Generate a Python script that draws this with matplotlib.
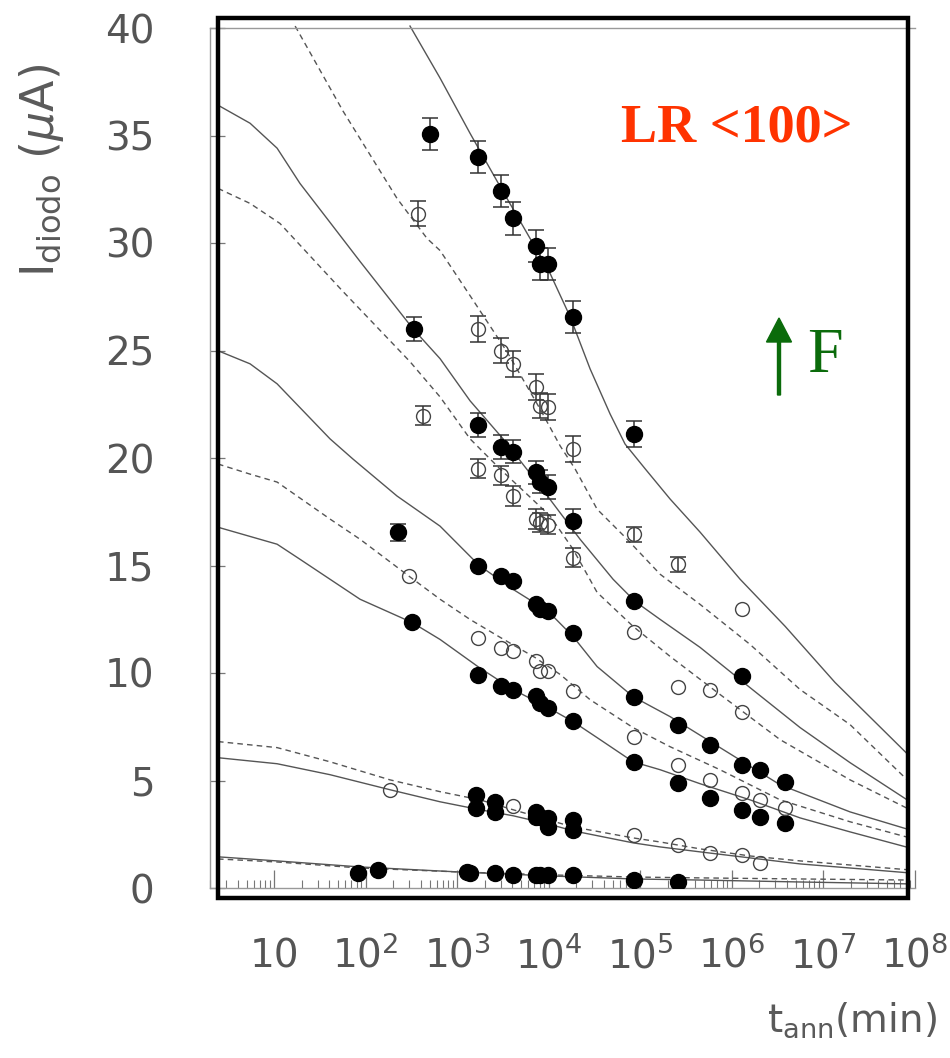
import numpy as np
import matplotlib
matplotlib.use("Agg")
import matplotlib.pyplot as plt
from matplotlib.patches import Rectangle, FancyArrow
from matplotlib.ticker import FixedLocator, LogLocator, NullFormatter

# ---- measured points (t in min, I in uA) ----
t_S1 = [500, 1700, 3000, 4100, 7300, 8100, 9900, 18500, 86000]
I_S1 = [35.06, 34.0, 32.43, 31.14, 29.85, 29.04, 29.04, 26.56, 21.12]
e_S1 = [0.75, 0.75, 0.75, 0.75, 0.75, 0.75, 0.75, 0.75, 0.6]

t_D1 = [375, 1700, 3000, 4100, 7300, 8100, 9900, 18500, 86000, 260000, 1.3e6]
I_D1 = [31.37, 26.0, 25.0, 24.38, 23.3, 22.44, 22.36, 20.42, 16.46, 15.06, 12.96]
e_D1 = [0.6, 0.6, 0.6, 0.6, 0.6, 0.6, 0.6, 0.6, 0.35, 0.35, 0.0]

t_S2 = [340, 1700, 3000, 4100, 7300, 8100, 9900, 18500, 86000, 1.3e6]
I_S2 = [26.0, 21.54, 20.5, 20.3, 19.33, 18.9, 18.65, 17.06, 13.33, 9.85]
e_S2 = [0.55, 0.55, 0.55, 0.55, 0.55, 0.55, 0.55, 0.55, 0.0, 0.0]

t_D2 = [425, 1700, 3000, 4100, 7300, 8100, 9900, 18500, 86000, 260000, 580000, 1.3e6]
I_D2 = [21.97, 19.5, 19.2, 18.24, 17.16, 17.0, 16.9, 15.37, 11.93, 9.37, 9.23, 8.2]
e_D2 = [0.45, 0.45, 0.45, 0.45, 0.45, 0.45, 0.45, 0.45, 0.0, 0.0, 0.0, 0.0]

t_S3 = [225, 1700, 3000, 4100, 7300, 8100, 9900, 18500, 86000, 260000, 580000, 1.3e6, 2.05e6, 3.85e6]
I_S3 = [16.54, 15.0, 14.5, 14.28, 13.2, 12.96, 12.88, 11.84, 8.9, 7.6, 6.67, 5.73, 5.5, 4.94]
e_S3 = [0.4] + [0.0] * 13

t_D3 = [300, 1700, 3000, 4100, 7300, 8100, 9900, 18500, 86000, 260000, 580000, 1.3e6, 2.05e6, 3.85e6]
I_D3 = [14.5, 11.64, 11.17, 11.02, 10.55, 10.08, 10.08, 9.15, 7.04, 5.73, 5.03, 4.43, 4.1, 3.73]

t_S4 = [320, 1700, 3000, 4100, 7300, 8100, 9900, 18500, 86000, 260000, 580000, 1.3e6, 2.05e6, 3.85e6]
I_S4 = [12.37, 9.93, 9.38, 9.23, 8.92, 8.6, 8.37, 7.75, 5.87, 4.9, 4.2, 3.64, 3.31, 3.03]

t_D4 = [185, 4100, 86000, 260000, 580000, 1.3e6, 2.05e6]
I_D4 = [4.57, 3.82, 2.47, 2.0, 1.63, 1.54, 1.17]

t_S5 = [1600, 1600, 2600, 2600, 7300, 7300, 8100, 9900, 9900, 18500, 18500]
I_S5 = [4.34, 3.72, 4.02, 3.55, 3.55, 3.3, 3.32, 3.24, 2.85, 3.17, 2.7]

t_S6 = [83, 137, 1300, 1400, 2600, 4100, 7300, 8100, 9900, 18500, 86000, 260000]
I_S6 = [0.71, 0.84, 0.76, 0.68, 0.7, 0.6, 0.6, 0.6, 0.6, 0.6, 0.37, 0.28]

# ---- model curves ----
tc_S1 = [306, 652, 1387, 2951, 6281, 1.04e4, 1.72e4, 2.84e4, 4.70e4, 6.85e4, 1.14e5, 2.13e5,
         4.53e5, 1.24e6, 3.85e6, 1.35e7, 8.93e7]
Ic_S1 = [40.09, 37.67, 35.10, 32.63, 30.21, 28.58, 26.57, 24.15, 22.05, 20.65, 19.49, 18.09,
         16.55, 14.36, 12.17, 9.56, 6.11]

tc_D1 = [17.0, 56.8, 221, 470, 652, 1387, 3516, 8072, 1.34e4, 1.95e4, 3.39e4, 6.85e4, 1.66e5,
         4.53e5, 1.59e6, 5.61e6, 1.97e7, 8.93e7]
Ic_D1 = [40.09, 36.13, 32.07, 30.21, 29.65, 27.55, 24.94, 22.28, 20.56, 19.49, 17.62, 16.32,
         14.59, 13.19, 11.33, 9.23, 7.60, 4.90]

tc_S2 = [2.44, 5.47, 10.8, 19.2, 37.9, 87.1, 330, 652, 1387, 3184, 8072, 2.21e4, 5.07e4, 8.81e4,
         1.66e5, 4.53e5, 1.59e6, 5.61e6, 1.97e7, 8.93e7]
Ic_S2 = [36.41, 35.57, 34.41, 32.77, 31.14, 29.14, 26.01, 24.62, 22.66, 20.89, 18.69, 16.22,
         14.36, 13.33, 12.49, 11.19, 9.32, 7.46, 5.83, 4.01]

tc_D2 = [2.44, 5.47, 11.6, 56.8, 306, 652, 1387, 2951, 6281, 1.04e4, 1.85e4, 3.39e4, 8.38e4,
         2.13e5, 7.48e5, 3.39e6, 1.97e7, 8.93e7]
Ic_D2 = [32.54, 31.84, 30.91, 27.74, 24.48, 22.84, 20.89, 19.49, 18.18, 17.30, 15.76, 13.75,
         12.17, 10.77, 9.00, 6.90, 5.03, 3.64]

tc_S3 = [2.44, 5.47, 10.8, 40.9, 72.9, 221, 652, 1738, 4093, 9886, 1.85e4, 3.39e4, 8.38e4,
         2.13e5, 7.48e5, 3.39e6, 1.97e7, 8.93e7]
Ic_S3 = [24.99, 24.38, 23.45, 20.89, 19.95, 18.23, 16.83, 15.01, 13.89, 12.87, 11.70, 10.30,
         8.90, 7.97, 6.53, 4.80, 3.54, 2.70]

tc_D3 = [2.44, 5.47, 10.8, 40.9, 87.1, 299, 652, 1387, 2951, 7112, 1.34e4, 2.84e4, 8.38e4,
         2.13e5, 7.48e5, 3.39e6, 1.97e7, 8.93e7]
Ic_D3 = [19.72, 19.25, 18.88, 17.16, 16.22, 14.50, 13.43, 12.49, 11.66, 10.72, 9.93, 8.76,
         7.46, 6.57, 5.50, 4.10, 3.08, 2.33]

tc_S4 = [2.44, 10.8, 19.2, 40.9, 87.1, 322, 652, 1738, 4093, 9886, 1.85e4, 3.66e4, 8.38e4,
         1.66e5, 4.53e5, 1.59e6, 5.61e6, 1.97e7, 8.93e7]
Ic_S4 = [16.78, 15.99, 15.29, 14.36, 13.43, 12.35, 11.56, 10.26, 9.23, 8.39, 7.74, 6.90, 5.87,
         5.50, 4.85, 4.10, 3.26, 2.61, 1.86]

tc_low = [2.44, 10.8, 40.9, 185, 652, 1782, 4093, 9886, 1.85e4, 8.38e4, 1.66e5, 4.53e5, 1.59e6,
          5.61e6, 1.97e7, 8.93e7]
Ic_D4 = [6.81, 6.53, 5.87, 5.03, 4.48, 4.10, 3.64, 3.17, 2.84, 2.33, 2.14, 1.82, 1.49, 1.26,
         1.07, 0.84]
Ic_S5 = [6.06, 5.78, 5.27, 4.57, 4.01, 3.64, 3.36, 2.98, 2.66, 2.10, 1.91, 1.68, 1.40, 1.12,
         0.93, 0.70]

tc_bot = [2.44, 10.8, 87.1, 1000, 1.04e4, 8.6e4, 4.53e5, 5.61e6, 8.93e7]
Ic_D5 = [1.35, 1.21, 0.93, 0.75, 0.61, 0.51, 0.47, 0.42, 0.37]
Ic_S6 = [1.45, 1.26, 0.98, 0.75, 0.56, 0.42, 0.37, 0.28, 0.19]

xticks = [10, 1e2, 1e3, 1e4, 1e5, 1e6, 1e7, 1e8]
xticklabels = ["10", "$10^{2}$", "$10^{3}$", "$10^{4}$", "$10^{5}$", "$10^{6}$", "$10^{7}$", "$10^{8}$"]
yticks = [0, 5, 10, 15, 20, 25, 30, 35, 40]

W, H = 950, 1058
fig = plt.figure(figsize=(W / 100, H / 100), dpi=100)
ax = fig.add_axes([210 / W, 1 - 888 / H, (914.6 - 210) / W, (888 - 28) / H])

line_col = "#555555"
dash = (4, 3)
curves = []
for tc, Ic in [(tc_S1, Ic_S1), (tc_S2, Ic_S2), (tc_S3, Ic_S3), (tc_S4, Ic_S4),
               (tc_low, Ic_S5), (tc_bot, Ic_S6)]:
    ln, = ax.plot(tc, Ic, color=line_col, lw=1.0, zorder=2)
    curves.append(ln)
for tc, Ic in [(tc_D1, Ic_D1), (tc_D2, Ic_D2), (tc_D3, Ic_D3), (tc_low, Ic_D4), (tc_bot, Ic_D5)]:
    ln, = ax.plot(tc, Ic, color=line_col, lw=1.0, ls=(0, dash), zorder=2)
    curves.append(ln)

# error bars
for t, I, e in [(t_S1, I_S1, e_S1), (t_D1, I_D1, e_D1), (t_S2, I_S2, e_S2),
                (t_D2, I_D2, e_D2), (t_S3, I_S3, e_S3)]:
    t = np.array(t); I = np.array(I); e = np.array(e)
    m = e > 0
    ax.errorbar(t[m], I[m], yerr=e[m], fmt="none", ecolor="#333333", elinewidth=1.1,
                capsize=6, capthick=1.1, zorder=3)

for t, I in [(t_S1, I_S1), (t_S2, I_S2), (t_S3, I_S3), (t_S4, I_S4), (t_S5, I_S5), (t_S6, I_S6)]:
    ax.plot(t, I, "o", color="black", ms=11.5, mec="black", zorder=4)
for t, I in [(t_D1, I_D1), (t_D2, I_D2), (t_D3, I_D3), (t_D4, I_D4)]:
    ax.plot(t, I, "o", mfc="none", mec="#444444", mew=1.0, ms=10, zorder=4)

ax.set_xscale("log")
ax.set_xlim(10 ** 0.3, 1e8)
ax.set_ylim(0, 40)

ax.xaxis.set_major_locator(FixedLocator(xticks))
ax.set_xticklabels(xticklabels)
ax.xaxis.set_minor_locator(LogLocator(base=10, subs=np.arange(2, 10), numticks=100))
ax.xaxis.set_minor_formatter(NullFormatter())
ax.set_yticks(yticks)
ax.set_yticklabels([str(v) for v in yticks])

ax.tick_params(axis="x", which="major", direction="in", length=13, width=0.9, color="#777777",
               labelsize=28, labelcolor="#555555", pad=57, top=False)
ax.tick_params(axis="x", which="minor", direction="in", length=6, width=0.8, color="#777777", top=False)
ax.tick_params(axis="y", which="major", direction="in", length=11, width=0.9, color="#777777",
               labelsize=28, labelcolor="#555555", pad=40, right=False)
for lab in ax.get_xticklabels():
    lab.set_verticalalignment("baseline")

for side in ["left", "top", "bottom"]:
    ax.spines[side].set_color("#999999")
    ax.spines[side].set_linewidth(1.0)
ax.spines["right"].set_visible(False)

# labels
fig.text(42 / W, 1 - 170 / H, r"I$_{\mathregular{diodo}}$ ($\mu$A)", rotation=90,
         ha="center", va="center", fontsize=33, color="#5a5a5a")
fig.text(852 / W, 1 - 1020 / H, r"t$_{\mathregular{ann}}$(min)", ha="center", va="center",
         fontsize=28, color="#5a5a5a")

fig.text(737 / W, 1 - 128 / H, "LR <100>", ha="center", va="center", fontsize=39,
         fontweight="bold", family="Liberation Serif", color="#ff3300")
fig.text(807 / W, 1 - 357 / H, "F", ha="left", va="center", fontsize=46,
         family="Liberation Serif", color="#0b6b0b")
fig.patches.append(FancyArrow(779 / W, 1 - 395 / H, 0, (395 - 318) / H, width=3 / W,
                              head_width=25 / W, head_length=24 / H, length_includes_head=True,
                              color="#0b6b0b", transform=fig.transFigure))

# thick frame
box = Rectangle((218 / W, 1 - 898 / H), 690 / W, 880 / H, transform=fig.transFigure,
                fill=False, lw=3.2, edgecolor="black", zorder=10)
fig.patches.append(box)
clip = Rectangle((218 / W, 1 - 898 / H), 690 / W, 880 / H, transform=fig.transFigure)
for ln in curves:
    ln.set_clip_path(clip)

fig.savefig("out.png", dpi=100)
